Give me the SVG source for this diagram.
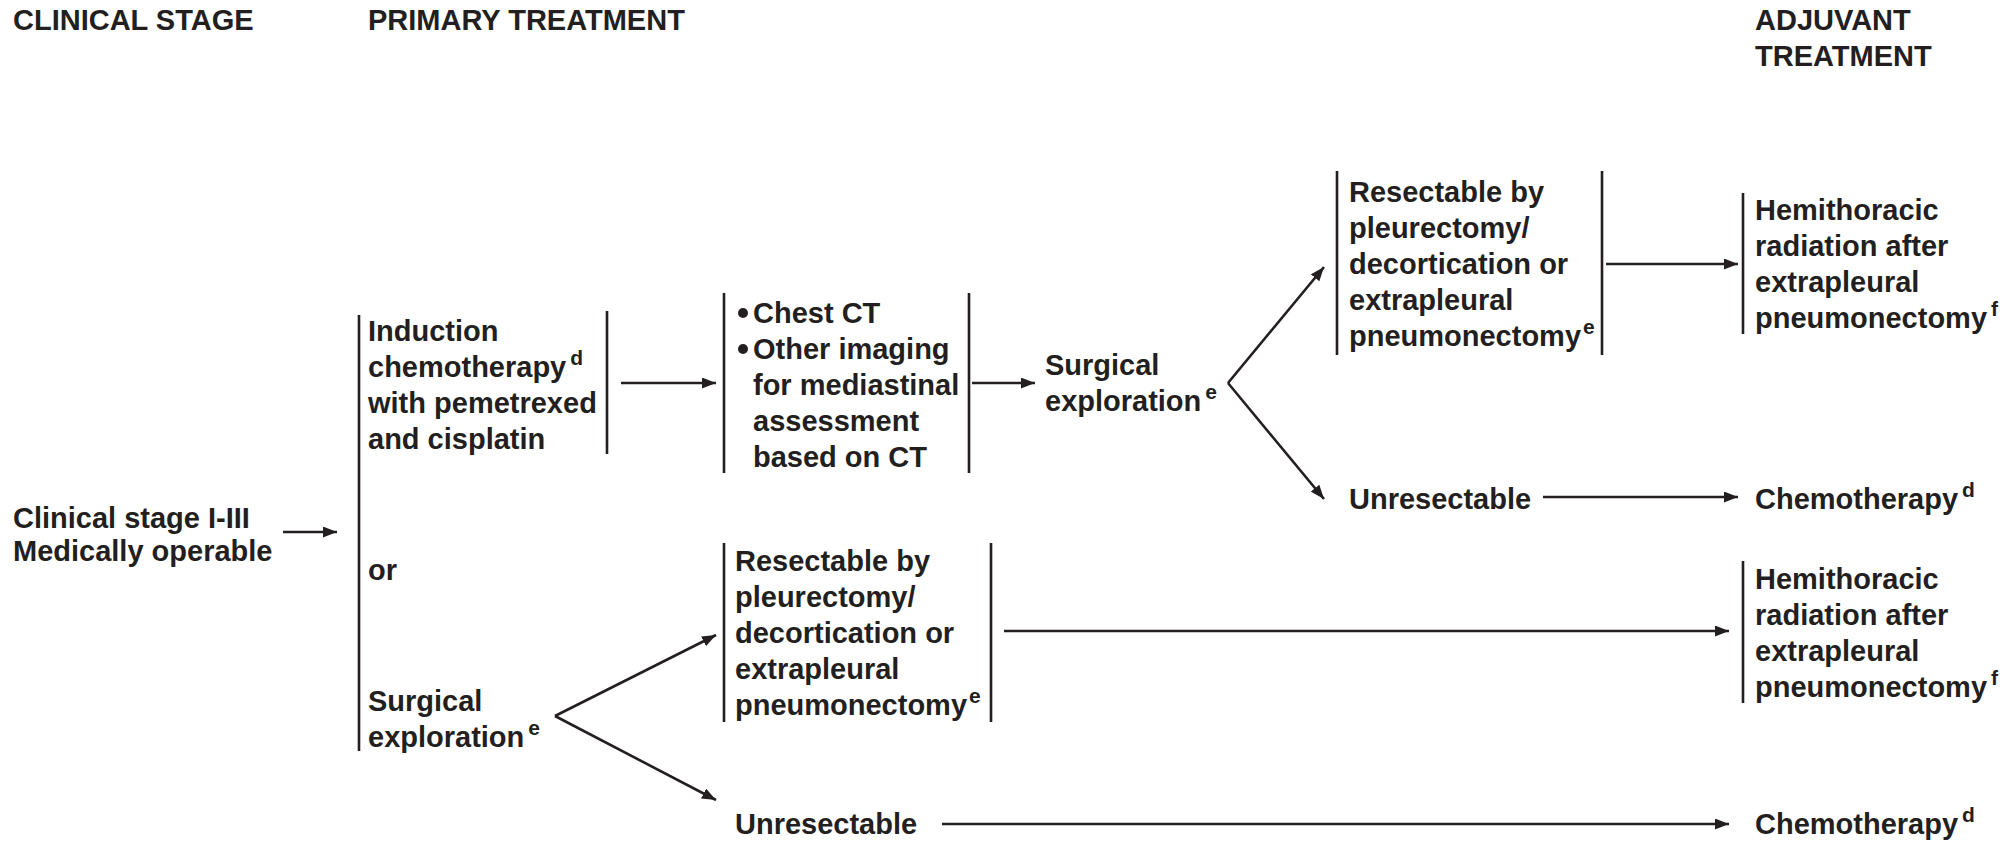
<svg xmlns="http://www.w3.org/2000/svg" width="2016" height="842" viewBox="0 0 2016 842">
<style>
text{font-family:"Liberation Sans",Arial,sans-serif;font-weight:bold;font-size:29px;fill:#231f20}
.sup{font-size:21px}
.bar{stroke:#231f20;stroke-width:2.6;fill:none}
.con{stroke:#231f20;stroke-width:2.6;fill:none;marker-end:url(#ah)}
</style>
<defs>
<marker id="ah" viewBox="0 0 14 11" refX="14" refY="5.5" markerWidth="14" markerHeight="11" markerUnits="userSpaceOnUse" orient="auto">
<path d="M0,0 L14,5.5 L0,11 Z" fill="#231f20"/>
</marker>
</defs>
<rect width="2016" height="842" fill="#ffffff"/>

<g id="headers">
<text x="13" y="30">CLINICAL STAGE</text>
<text x="368" y="30">PRIMARY TREATMENT</text>
<text x="1755" y="30">ADJUVANT</text>
<text x="1755" y="66">TREATMENT</text>
</g>

<g id="clinical-stage">
<text x="13" y="528">Clinical stage I-III</text>
<text x="13" y="561">Medically operable</text>
</g>

<g id="primary-bracket">
<line class="bar" x1="359" y1="315" x2="359" y2="751"/>
<text x="368" y="580">or</text>
</g>

<g id="induction">
<text x="368" y="341">Induction</text>
<text x="368" y="377">chemotherapy<tspan class="sup" dx="4" dy="-12">d</tspan></text>
<text x="368" y="413">with pemetrexed</text>
<text x="368" y="449">and cisplatin</text>
<line class="bar" x1="607" y1="311" x2="607" y2="454"/>
</g>

<g id="imaging">
<line class="bar" x1="724" y1="293" x2="724" y2="473"/>
<line class="bar" x1="969" y1="293" x2="969" y2="473"/>
<circle cx="743" cy="313" r="5" fill="#231f20"/>
<circle cx="743" cy="349" r="5" fill="#231f20"/>
<text x="753" y="323">Chest CT</text>
<text x="753" y="359">Other imaging</text>
<text x="753" y="395">for mediastinal</text>
<text x="753" y="431">assessment</text>
<text x="753" y="467">based on CT</text>
</g>

<g id="surgical-exploration-2">
<text x="1045" y="375">Surgical</text>
<text x="1045" y="411">exploration<tspan class="sup" dx="4" dy="-12">e</tspan></text>
</g>

<g id="resectable-1">
<line class="bar" x1="1337" y1="171" x2="1337" y2="355"/>
<line class="bar" x1="1602" y1="171" x2="1602" y2="355"/>
<text x="1349" y="202">Resectable by</text>
<text x="1349" y="238">pleurectomy/</text>
<text x="1349" y="274">decortication or</text>
<text x="1349" y="310">extrapleural</text>
<text x="1349" y="346">pneumonectomy<tspan class="sup" dx="2" dy="-12">e</tspan></text>
</g>

<g id="hemithoracic-1">
<line class="bar" x1="1743" y1="193" x2="1743" y2="334"/>
<text x="1755" y="220">Hemithoracic</text>
<text x="1755" y="256">radiation after</text>
<text x="1755" y="292">extrapleural</text>
<text x="1755" y="328">pneumonectomy<tspan class="sup" dx="4" dy="-12">f</tspan></text>
</g>

<g id="unresectable-1">
<text x="1349" y="509">Unresectable</text>
</g>

<g id="chemotherapy-1">
<text x="1755" y="509">Chemotherapy<tspan class="sup" dx="4" dy="-12">d</tspan></text>
</g>

<g id="surgical-exploration-1">
<text x="368" y="711">Surgical</text>
<text x="368" y="747">exploration<tspan class="sup" dx="4" dy="-12">e</tspan></text>
</g>

<g id="resectable-2">
<line class="bar" x1="724" y1="543" x2="724" y2="722"/>
<line class="bar" x1="991" y1="543" x2="991" y2="722"/>
<text x="735" y="571">Resectable by</text>
<text x="735" y="607">pleurectomy/</text>
<text x="735" y="643">decortication or</text>
<text x="735" y="679">extrapleural</text>
<text x="735" y="715">pneumonectomy<tspan class="sup" dx="2" dy="-12">e</tspan></text>
</g>

<g id="hemithoracic-2">
<line class="bar" x1="1743" y1="561" x2="1743" y2="703"/>
<text x="1755" y="589">Hemithoracic</text>
<text x="1755" y="625">radiation after</text>
<text x="1755" y="661">extrapleural</text>
<text x="1755" y="697">pneumonectomy<tspan class="sup" dx="4" dy="-12">f</tspan></text>
</g>

<g id="unresectable-2">
<text x="735" y="834">Unresectable</text>
</g>

<g id="chemotherapy-2">
<text x="1755" y="834">Chemotherapy<tspan class="sup" dx="4" dy="-12">d</tspan></text>
</g>

<g id="connectors">
<line class="con" x1="283" y1="532" x2="337" y2="532"/>
<line class="con" x1="621" y1="383" x2="716" y2="383"/>
<line class="con" x1="972" y1="383" x2="1035" y2="383"/>
<line class="con" x1="1228" y1="383" x2="1324" y2="267"/>
<line class="con" x1="1228" y1="383" x2="1324" y2="499"/>
<line class="con" x1="1606" y1="264" x2="1738" y2="264"/>
<line class="con" x1="1543" y1="497" x2="1738" y2="497"/>
<line class="con" x1="555" y1="716" x2="716" y2="635"/>
<line class="con" x1="555" y1="716" x2="716" y2="800"/>
<line class="con" x1="1004" y1="631" x2="1729" y2="631"/>
<line class="con" x1="942" y1="824" x2="1729" y2="824"/>
</g>
</svg>
